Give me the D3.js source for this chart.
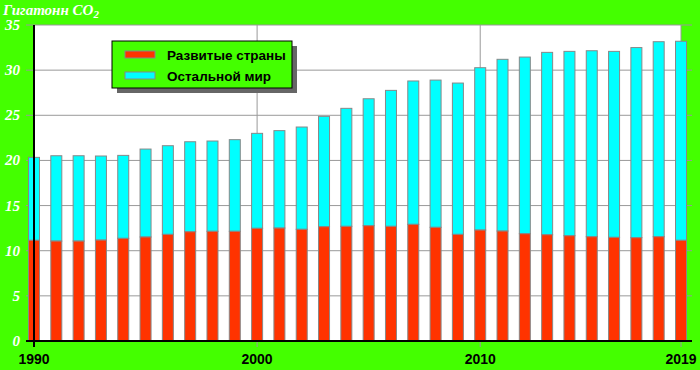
<!DOCTYPE html>
<meta charset="utf-8">
<style>
body { margin: 0; background: #44ff00; }
svg { display: block; }
</style>
<svg width="700" height="370"></svg>
<script src="https://d3js.org/d3.v7.min.js"></script>
<script>

var years = d3.range(1990, 2020);
var developed = [11.15, 11.07, 11.07, 11.18, 11.37, 11.52, 11.81, 12.1, 12.15, 12.15,
                 12.48, 12.51, 12.37, 12.66, 12.7, 12.77, 12.7, 12.92, 12.59, 11.81,
                 12.29, 12.18, 11.88, 11.77, 11.66, 11.55, 11.48, 11.44, 11.55, 11.15];
var total = [20.34, 20.52, 20.52, 20.49, 20.56, 21.26, 21.63, 22.07, 22.15, 22.3,
             23.0, 23.3, 23.7, 24.88, 25.77, 26.83, 27.76, 28.8, 28.9, 28.57,
             30.27, 31.2, 31.45, 31.97, 32.08, 32.15, 32.08, 32.5, 33.15, 33.2];
var yTicks = [0, 5, 10, 15, 20, 25, 30, 35];
var xTicks = [1990, 2000, 2010, 2019];
var seriesNames = ["Развитые страны", "Остальной мир"];
var seriesColors = ["#ff3300", "#00ffff"];

var svg = d3.select("svg");

var x = d3.scaleLinear().domain([1990, 2019]).range([34, 681]);
var y = d3.scaleLinear().domain([0, 35]).range([341, 25]);
var bw = 11;

// plot background
svg.append("rect")
    .attr("x", x(1990)).attr("y", y(35))
    .attr("width", x(2019) - x(1990)).attr("height", y(0) - y(35))
    .attr("fill", "#fff");

// horizontal grid
svg.append("g").selectAll("line")
  .data(yTicks.slice(1))
  .enter().append("line")
    .attr("x1", 26).attr("x2", 692)
    .attr("y1", function(d) { return y(d); })
    .attr("y2", function(d) { return y(d); })
    .attr("stroke", "#999").attr("stroke-width", 1);

// vertical grid
svg.append("g").selectAll("line")
  .data(xTicks.slice(1))
  .enter().append("line")
    .attr("x1", function(d) { return x(d); })
    .attr("x2", function(d) { return x(d); })
    .attr("y1", y(35)).attr("y2", 347)
    .attr("stroke", "#999").attr("stroke-width", 1);

// bars
var bars = svg.append("g");
bars.selectAll(".rest")
  .data(years)
  .enter().append("rect")
    .attr("x", function(d) { return x(d) - bw / 2; })
    .attr("y", function(d, i) { return y(total[i]); })
    .attr("width", bw)
    .attr("height", function(d, i) { return y(developed[i]) - y(total[i]); })
    .attr("fill", seriesColors[1])
    .attr("stroke", "#888").attr("stroke-width", 1);

bars.selectAll(".dev")
  .data(years)
  .enter().append("rect")
    .attr("x", function(d) { return x(d) - bw / 2; })
    .attr("y", function(d, i) { return y(developed[i]); })
    .attr("width", bw)
    .attr("height", function(d, i) { return y(0) - y(developed[i]); })
    .attr("fill", seriesColors[0])
    .attr("stroke", "#888").attr("stroke-width", 1);

// axes
svg.append("line")
    .attr("x1", 26).attr("x2", 692)
    .attr("y1", y(0)).attr("y2", y(0))
    .attr("stroke", "#000").attr("stroke-width", 2);
svg.append("line")
    .attr("x1", x(1990)).attr("x2", x(1990))
    .attr("y1", y(35)).attr("y2", 347)
    .attr("stroke", "#000").attr("stroke-width", 2);

// y labels
svg.append("g").selectAll("text")
  .data(yTicks)
  .enter().append("text")
    .attr("x", 20)
    .attr("y", function(d) { return y(d) + 5; })
    .attr("text-anchor", "end")
    .attr("fill", "#fff")
    .attr("font-family", "Liberation Serif, Times New Roman, serif")
    .attr("font-style", "italic")
    .attr("font-weight", "bold")
    .attr("font-size", 15)
    .text(function(d) { return d; });

// x labels
svg.append("g").selectAll("text")
  .data(xTicks)
  .enter().append("text")
    .attr("x", function(d) { return x(d); })
    .attr("y", 364)
    .attr("text-anchor", "middle")
    .attr("fill", "#000")
    .attr("font-family", "Liberation Sans, Arial, sans-serif")
    .attr("font-weight", "bold")
    .attr("font-size", 14)
    .text(function(d) { return d; });

// unit title
var t = svg.append("text")
    .attr("x", 3).attr("y", 15)
    .attr("fill", "#fff")
    .attr("font-family", "Liberation Serif, Times New Roman, serif")
    .attr("font-style", "italic")
    .attr("font-weight", "bold")
    .attr("font-size", 15);
t.append("tspan").text("Гигатонн CO");
t.append("tspan").attr("dy", 3).attr("font-size", 11).text("2");

// legend
var lg = svg.append("g").attr("transform", "translate(112,41)");
lg.append("rect")
    .attr("x", 5).attr("y", 5).attr("width", 180).attr("height", 47)
    .attr("fill", "#666");
lg.append("rect")
    .attr("width", 180).attr("height", 47)
    .attr("fill", "#44ff00").attr("stroke", "#000").attr("stroke-width", 1);
lg.selectAll(".sw")
  .data(seriesNames)
  .enter().append("rect")
    .attr("x", 13).attr("y", function(d, i) { return 10 + i * 21; })
    .attr("width", 30).attr("height", 7)
    .attr("fill", function(d, i) { return seriesColors[i]; })
    .attr("stroke", "#888");
lg.selectAll("text")
  .data(seriesNames)
  .enter().append("text")
    .attr("x", 55).attr("y", function(d, i) { return 19 + i * 21; })
    .attr("fill", "#000")
    .attr("font-family", "Liberation Sans, Arial, sans-serif")
    .attr("font-weight", "bold")
    .attr("font-size", 13.5)
    .text(function(d) { return d; });

</script>
